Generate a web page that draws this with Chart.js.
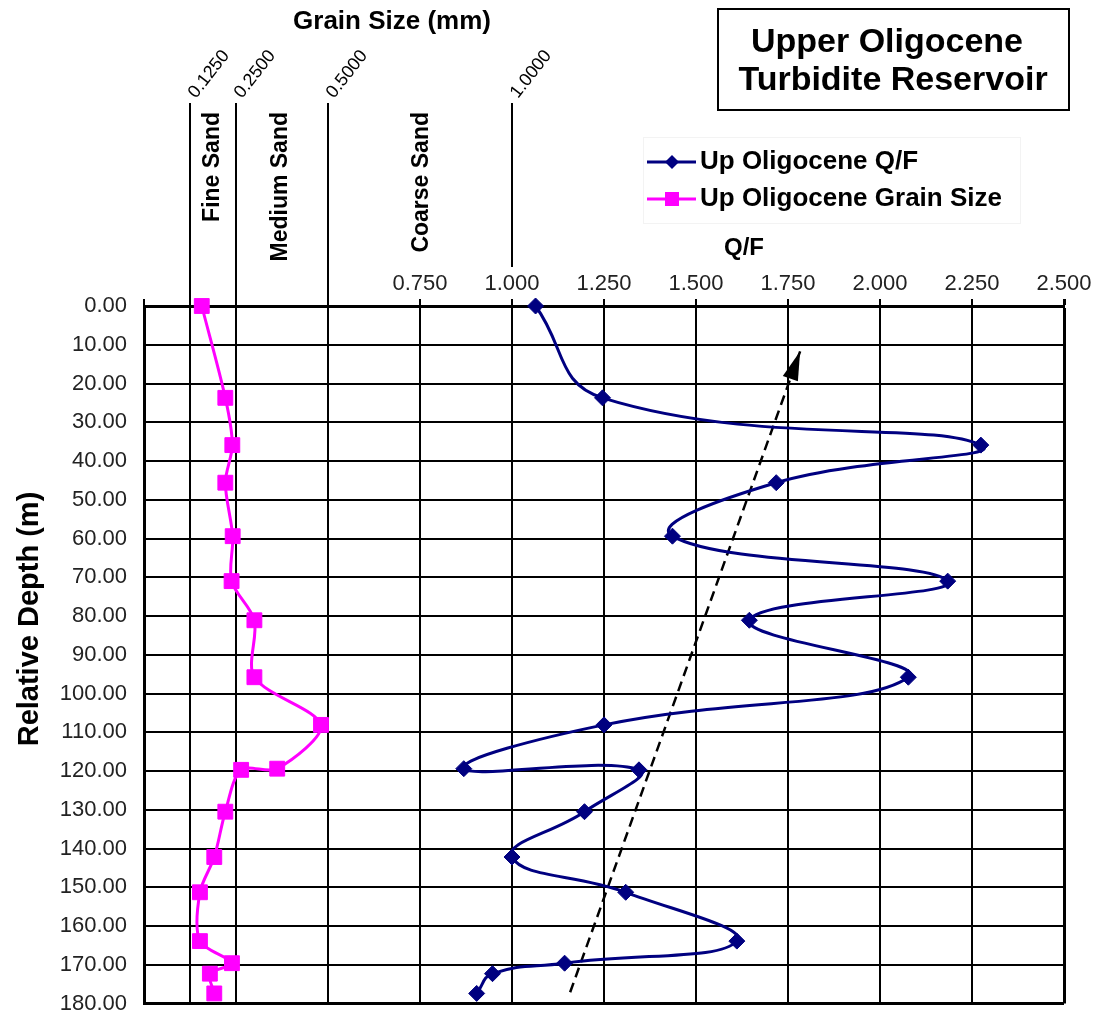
<!DOCTYPE html>
<html>
<head>
<meta charset="utf-8">
<script src="https://cdn.jsdelivr.net/npm/chart.js@4.4.0/dist/chart.umd.min.js"></script>
<style>
  html, body { margin: 0; padding: 0; background: #fff; }
  #wrap { width: 1102px; height: 1019px; position: relative; }
</style>
</head>
<body>
<div id="wrap"><canvas id="qf"></canvas></div>
<script>
// sample depths (m), shared by both series
var depths = [0, 23.7, 35.9, 45.6, 59.4, 71.0, 81.1, 95.8, 108.1, 119.4, 119.7, 130.5, 142.2, 151.3, 163.9, 169.6, 172.3, 177.4];
var qfValues = [1.064, 1.246, 2.274, 1.718, 1.436, 2.184, 1.645, 2.077, 1.250, 0.869, 1.345, 1.197, 1.000, 1.309, 1.611, 1.143, 0.947, 0.904];
var grainValues = [0.157, 0.221, 0.240, 0.221, 0.241, 0.238, 0.300, 0.300, 0.481, 0.362, 0.264, 0.221, 0.191, 0.152, 0.152, 0.239, 0.179, 0.191];

// dashed trend arrow (Q/F, depth), from bottom to tip
var trendQF = [1.158, 1.783];
var trendDepth = [177.1, 11.7];

// grain size class boundaries (mm) shown above the plot
var grainClassSizes = [0.125, 0.25, 0.5, 1.0];
var grainClassLabels = ['0.1250', '0.2500', '0.5000', '1.0000'];
var sandNames = ['Fine Sand', 'Medium Sand', 'Coarse Sand'];

var FONT = "'Liberation Sans', Arial, Helvetica, sans-serif";
Chart.defaults.font.family = FONT;
Chart.defaults.color = '#000';

function toPoints(xs, ys) {
  return xs.map(function (v, i) { return { x: v, y: ys[i] }; });
}

function gridWidth(edge) {
  return function (c) { return c.tick && c.tick.value === edge ? 3 : 2; };
}

var decor = {
  id: 'decor',
  beforeDatasetsDraw: function (chart) {
    var c = chart.ctx, xs = chart.scales.x, a = chart.chartArea;
    c.save();
    c.strokeStyle = '#000';
    c.lineWidth = 2;
    grainClassSizes.forEach(function (s) {
      var px = Math.round(xs.getPixelForValue(s));
      // lines that share a Q/F tick label stop short of it
      var end = s >= 0.75 ? 267 : a.top;
      c.beginPath(); c.moveTo(px, 103); c.lineTo(px, end); c.stroke();
      if (s % 0.25 !== 0) {
        c.beginPath(); c.moveTo(px, a.top); c.lineTo(px, a.bottom); c.stroke();
      }
    });
    c.restore();
  },
  afterDatasetsDraw: function (chart) {
    // arrow head at the tip of the trend line
    var c = chart.ctx;
    var pts = chart.getDatasetMeta(2).data;
    var p0 = pts[0], p1 = pts[pts.length - 1];
    var ang = Math.atan2(p1.y - p0.y, p1.x - p0.x);
    c.save();
    c.translate(p1.x, p1.y);
    c.rotate(ang);
    c.fillStyle = '#000';
    c.beginPath();
    c.moveTo(0, 0);
    c.lineTo(-29, -8);
    c.lineTo(-29, 8);
    c.closePath();
    c.fill();
    c.restore();
  },
  afterDraw: function (chart) {
    var c = chart.ctx, xs = chart.scales.x;
    c.save();
    c.fillStyle = '#000';

    // top heading
    c.font = 'bold 26px ' + FONT;
    c.textAlign = 'center';
    c.textBaseline = 'middle';
    c.fillText('Grain Size (mm)', 392, 22);

    // rotated grain class labels
    c.font = '18px ' + FONT;
    c.textAlign = 'left';
    c.textBaseline = 'alphabetic';
    grainClassSizes.forEach(function (s, i) {
      var px = xs.getPixelForValue(s);
      c.save();
      c.translate(px + 6, 99);
      c.rotate(-52 * Math.PI / 180);
      c.fillText(grainClassLabels[i], 0, 0);
      c.restore();
    });

    // sand class names, between the boundaries
    var sandAt = [0.187, 0.37, 0.755];
    c.font = 'bold 23px ' + FONT;
    c.textAlign = 'right';
    c.textBaseline = 'middle';
    sandNames.forEach(function (n, i) {
      c.save();
      c.translate(xs.getPixelForValue(sandAt[i]), 112);
      c.rotate(-Math.PI / 2);
      c.fillText(n, 0, 0);
      c.restore();
    });

    // y axis title
    c.save();
    c.font = 'bold 29px ' + FONT;
    c.textAlign = 'center';
    c.translate(30, 619);
    c.rotate(-Math.PI / 2);
    c.fillText('Relative Depth (m)', 0, 0);
    c.restore();

    // Q/F axis title
    c.font = 'bold 24px ' + FONT;
    c.textAlign = 'center';
    c.fillText('Q/F', 744, 248);

    // title box
    c.lineWidth = 2;
    c.strokeStyle = '#000';
    c.strokeRect(718, 9, 351, 101);
    c.font = 'bold 34px ' + FONT;
    c.fillText('Upper Oligocene', 887, 43);
    c.fillText('Turbidite Reservoir', 893, 81);

    // legend
    c.strokeStyle = '#f3f3f3';
    c.lineWidth = 1;
    c.strokeRect(643.5, 137.5, 377, 86);
    var rows = [162, 199];
    [0, 1].forEach(function (di, r) {
      var ds = chart.data.datasets[di];
      var y = rows[r];
      c.strokeStyle = ds.borderColor;
      c.fillStyle = ds.borderColor;
      c.lineWidth = 3;
      c.beginPath(); c.moveTo(647, y); c.lineTo(696, y); c.stroke();
      c.beginPath();
      if (ds.pointStyle === 'rectRot') {
        c.moveTo(672, y - 7); c.lineTo(679, y); c.lineTo(672, y + 7); c.lineTo(665, y);
        c.closePath();
      } else {
        c.rect(665, y - 7, 14, 14);
      }
      c.fill();
      c.fillStyle = '#000';
      c.font = 'bold 26px ' + FONT;
      c.textAlign = 'left';
      c.fillText(ds.label, 700, y);
    });
    c.restore();
  }
};

new Chart(document.getElementById('qf'), {
  type: 'line',
  data: {
    datasets: [
      {
        label: 'Up Oligocene Q/F',
        data: toPoints(qfValues, depths),
        borderColor: '#000080',
        backgroundColor: '#000080',
        borderWidth: 3,
        pointStyle: 'rectRot',
        pointRadius: 8,
        pointBorderWidth: 1,
        tension: 0.45,
        clip: false
      },
      {
        label: 'Up Oligocene Grain Size',
        data: toPoints(grainValues, depths),
        borderColor: '#ff00ff',
        backgroundColor: '#ff00ff',
        borderWidth: 3,
        pointStyle: 'rect',
        pointRadius: 10.5,
        pointBorderWidth: 1,
        tension: 0.3,
        clip: false
      },
      {
        label: '',
        data: toPoints(trendQF, trendDepth),
        borderColor: '#000',
        borderWidth: 2.5,
        borderDash: [10, 6],
        pointRadius: 0,
        tension: 0
      }
    ]
  },
  options: {
    responsive: true,
    maintainAspectRatio: false,
    animation: false,
    layout: { padding: { left: 0, top: 0, right: 38, bottom: 15.5 } },
    plugins: {
      legend: { display: false },
      tooltip: { enabled: false }
    },
    scales: {
      x: {
        type: 'linear',
        position: 'top',
        min: 0,
        max: 2.5,
        afterFit: function (s) { s.height = 306; },
        ticks: {
          stepSize: 0.25,
          padding: 2,
          color: '#222',
          font: { size: 22 },
          maxRotation: 0,
          callback: function (v) { return v >= 0.75 ? v.toFixed(3) : ''; }
        },
        grid: { color: '#000', lineWidth: gridWidth(2.5), tickLength: 7 },
        border: { color: '#000', width: 3 }
      },
      y: {
        type: 'linear',
        reverse: true,
        min: 0,
        max: 180,
        afterFit: function (s) {
          s.width = 144;
          // keep the label padding from shrinking the plot
          s.paddingTop = 0;
          s.paddingBottom = 0;
        },
        ticks: {
          stepSize: 10,
          padding: 17,
          color: '#222',
          font: { size: 22 },
          callback: function (v) { return v.toFixed(2); }
        },
        grid: { color: '#000', lineWidth: gridWidth(180), drawTicks: false },
        border: { color: '#000', width: 3 }
      }
    }
  },
  plugins: [decor]
});
</script>
</body>
</html>
